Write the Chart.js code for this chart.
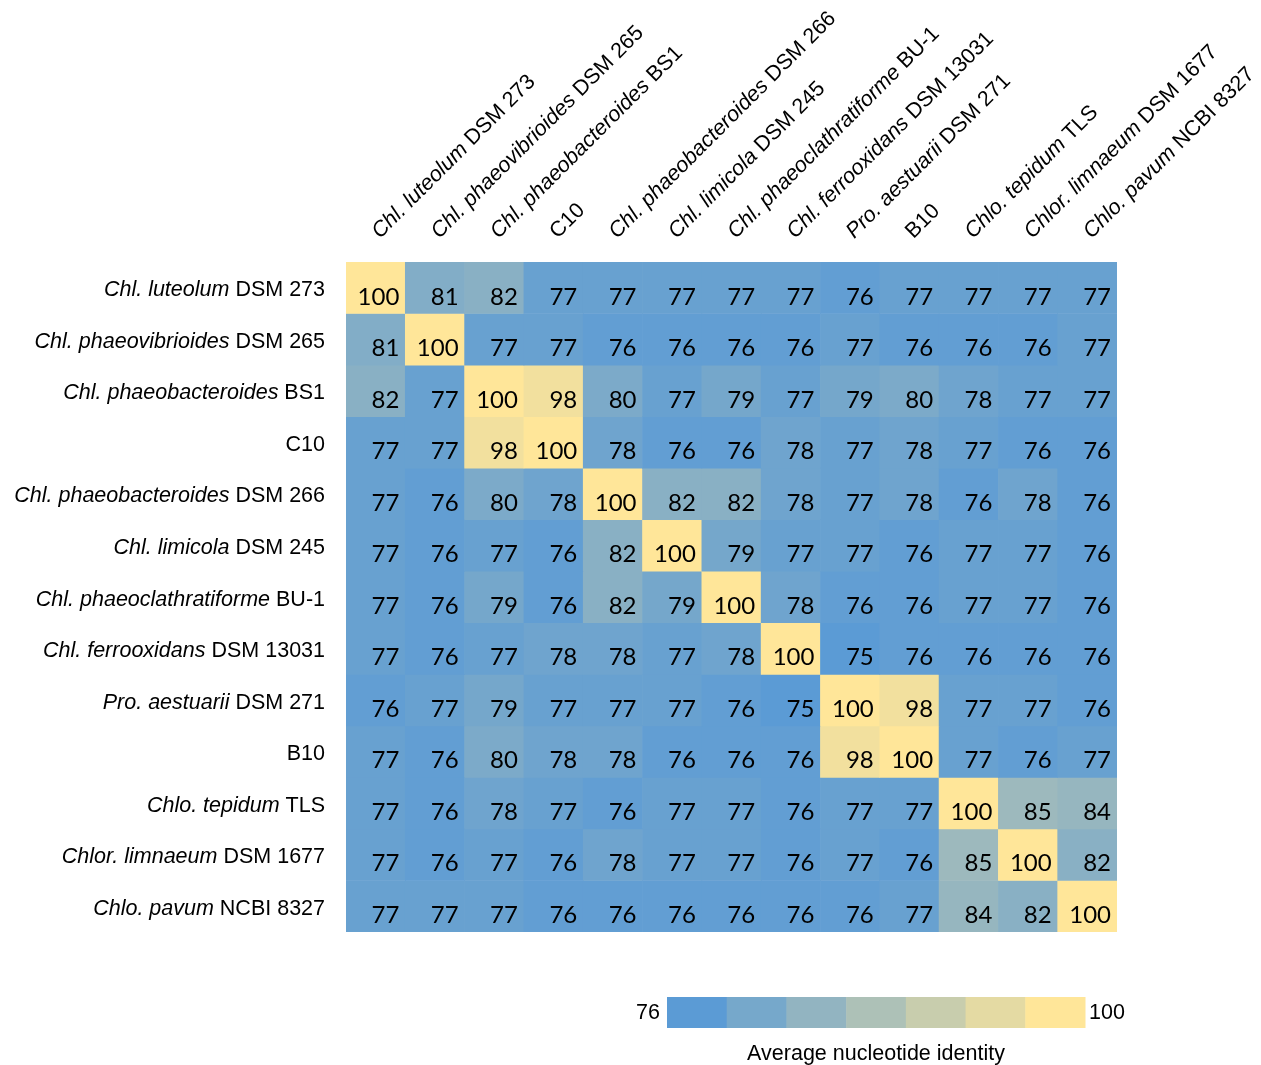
<!DOCTYPE html>
<html>
<head>
<meta charset="utf-8">
<script src="https://cdn.jsdelivr.net/npm/chart.js@4/dist/chart.umd.min.js"></script>
<style>
  html, body { margin: 0; padding: 0; background: #ffffff; }
  #wrap { width: 1261px; height: 1065px; }
</style>
</head>
<body>
<div id="wrap"><canvas id="ani" width="1261" height="1065"></canvas></div>
<script>
// Genome labels: italic species part + roman strain part
const speciesNames = [
  "Chl. luteolum", "Chl. phaeovibrioides", "Chl. phaeobacteroides", "",
  "Chl. phaeobacteroides", "Chl. limicola", "Chl. phaeoclathratiforme",
  "Chl. ferrooxidans", "Pro. aestuarii", "", "Chlo. tepidum",
  "Chlor. limnaeum", "Chlo. pavum"
];
const strainNames = [
  "DSM 273", "DSM 265", "BS1", "C10", "DSM 266", "DSM 245", "BU-1",
  "DSM 13031", "DSM 271", "B10", "TLS", "DSM 1677", "NCBI 8327"
];

// Pairwise average nucleotide identity (%), one row per genome
const aniLuteolum273      = [100, 81, 82, 77, 77, 77, 77, 77, 76, 77, 77, 77, 77];
const aniPhaeovibrio265   = [81, 100, 77, 77, 76, 76, 76, 76, 77, 76, 76, 76, 77];
const aniPhaeobactBS1     = [82, 77, 100, 98, 80, 77, 79, 77, 79, 80, 78, 77, 77];
const aniC10              = [77, 77, 98, 100, 78, 76, 76, 78, 77, 78, 77, 76, 76];
const aniPhaeobact266     = [77, 76, 80, 78, 100, 82, 82, 78, 77, 78, 76, 78, 76];
const aniLimicola245      = [77, 76, 77, 76, 82, 100, 79, 77, 77, 76, 77, 77, 76];
const aniPhaeoclathBU1    = [77, 76, 79, 76, 82, 79, 100, 78, 76, 76, 77, 77, 76];
const aniFerrooxidans     = [77, 76, 77, 78, 78, 77, 78, 100, 75, 76, 76, 76, 76];
const aniAestuarii271     = [76, 77, 79, 77, 77, 77, 76, 75, 100, 98, 77, 77, 76];
const aniB10              = [77, 76, 80, 78, 78, 76, 76, 76, 98, 100, 77, 76, 77];
const aniTepidumTLS       = [77, 76, 78, 77, 76, 77, 77, 76, 77, 77, 100, 85, 84];
const aniLimnaeum1677     = [77, 76, 77, 76, 78, 77, 77, 76, 77, 76, 85, 100, 82];
const aniPavum8327        = [77, 77, 77, 76, 76, 76, 76, 76, 76, 77, 84, 82, 100];

// Colour key end labels
const keyTicks = [76, 100];
const keyTitle = "Average nucleotide identity";

const aniRows = [
  aniLuteolum273, aniPhaeovibrio265, aniPhaeobactBS1, aniC10, aniPhaeobact266,
  aniLimicola245, aniPhaeoclathBU1, aniFerrooxidans, aniAestuarii271, aniB10,
  aniTepidumTLS, aniLimnaeum1677, aniPavum8327
];

// Two-colour scale, blue (low) to yellow (high)
const LOW_RGB = [91, 155, 213];
const HIGH_RGB = [255, 230, 153];
const allValues = aniRows.flat();
const vMin = Math.min(...allValues);
const vMax = Math.max(...allValues);
function mix(t) {
  const c = LOW_RGB.map((l, i) => Math.round(l + (HIGH_RGB[i] - l) * t));
  return `rgb(${c[0]},${c[1]},${c[2]})`;
}
function colorFor(v) {
  return mix(Math.max(0, Math.min(1, (v - vMin) / (vMax - vMin))));
}

const SANS = '"Liberation Sans", Arial, sans-serif';
const LABEL_PX = 21.5;
const CELL_FONT = '24px Lato, "Open Sans", sans-serif';

// Each genome row is one dataset of floating bars spanning [row, row + 1]
const datasets = aniRows.map((row, r) => ({
  label: strainNames[r],
  data: row.map(() => [r, r + 1]),
  backgroundColor: row.map(colorFor),
  borderWidth: 0,
  barPercentage: 1,
  categoryPercentage: 1,
  grouped: false
}));

function drawMixedLabel(ctx, italicPart, romanPart, x, y, align) {
  const itFont = `italic ${LABEL_PX}px ${SANS}`;
  const rmFont = `${LABEL_PX}px ${SANS}`;
  const lead = italicPart ? italicPart + " " : "";
  ctx.font = itFont;
  const wIt = ctx.measureText(lead).width;
  ctx.font = rmFont;
  const wRm = ctx.measureText(romanPart).width;
  const start = align === "right" ? x - (wIt + wRm) : x;
  ctx.textAlign = "left";
  if (lead) {
    ctx.font = itFont;
    ctx.fillText(lead, start, y);
  }
  ctx.font = rmFont;
  ctx.fillText(romanPart, start + wIt, y);
}

const heatLabels = {
  id: "heatLabels",
  afterDatasetsDraw(chart) {
    const { ctx, scales } = chart;
    const xs = scales.x, ys = scales.y;
    const half = (xs.getPixelForValue(1) - xs.getPixelForValue(0)) / 2;
    ctx.save();
    ctx.fillStyle = "#000000";

    // values inside cells
    ctx.font = CELL_FONT;
    ctx.textAlign = "right";
    ctx.textBaseline = "alphabetic";
    aniRows.forEach((row, r) => {
      const yb = ys.getPixelForValue(r + 1) - 9;
      row.forEach((v, c) => {
        ctx.fillText(String(v), xs.getPixelForValue(c) + half - 6, yb);
      });
    });

    // row labels on the left
    ctx.textBaseline = "alphabetic";
    strainNames.forEach((s, r) => {
      const yc = (ys.getPixelForValue(r) + ys.getPixelForValue(r + 1)) / 2;
      drawMixedLabel(ctx, speciesNames[r], s, chart.chartArea.left - 21, yc + 8.5, "right");
    });

    // column labels, rotated
    ctx.textBaseline = "middle";
    strainNames.forEach((s, c) => {
      ctx.save();
      ctx.translate(xs.getPixelForValue(c), chart.chartArea.top - 27);
      ctx.rotate(-Math.PI / 4);
      drawMixedLabel(ctx, speciesNames[c], s, 0, 0, "left");
      ctx.restore();
    });

    // colour key
    const keyLeft = 667, keyRight = 1085, keyTop = 997, keyBottom = 1028;
    const bins = 7;
    const bw = (keyRight - keyLeft) / bins;
    for (let i = 0; i < bins; i++) {
      ctx.fillStyle = mix(i / (bins - 1));
      ctx.fillRect(keyLeft + i * bw, keyTop, bw + 0.5, keyBottom - keyTop);
    }
    ctx.fillStyle = "#000000";
    ctx.font = `${LABEL_PX}px ${SANS}`;
    ctx.textBaseline = "middle";
    ctx.textAlign = "right";
    ctx.fillText(String(keyTicks[0]), keyLeft - 7, (keyTop + keyBottom) / 2 + 1);
    ctx.textAlign = "left";
    ctx.fillText(String(keyTicks[1]), keyRight + 4, (keyTop + keyBottom) / 2 + 1);
    ctx.textAlign = "center";
    ctx.textBaseline = "alphabetic";
    ctx.fillText(keyTitle, (keyLeft + keyRight) / 2, 1060);
    ctx.restore();
  }
};

new Chart(document.getElementById("ani"), {
  type: "bar",
  data: { labels: strainNames, datasets },
  options: {
    responsive: false,
    animation: false,
    devicePixelRatio: 1,
    layout: { padding: { left: 346, top: 262, right: 144, bottom: 133 } },
    plugins: { legend: { display: false }, tooltip: { enabled: false }, title: { display: false } },
    scales: {
      x: { type: "category", offset: true, display: false, grid: { display: false } },
      y: { type: "linear", min: 0, max: 13, reverse: true, display: false, grid: { display: false } }
    }
  },
  plugins: [heatLabels]
});
</script>
</body>
</html>
